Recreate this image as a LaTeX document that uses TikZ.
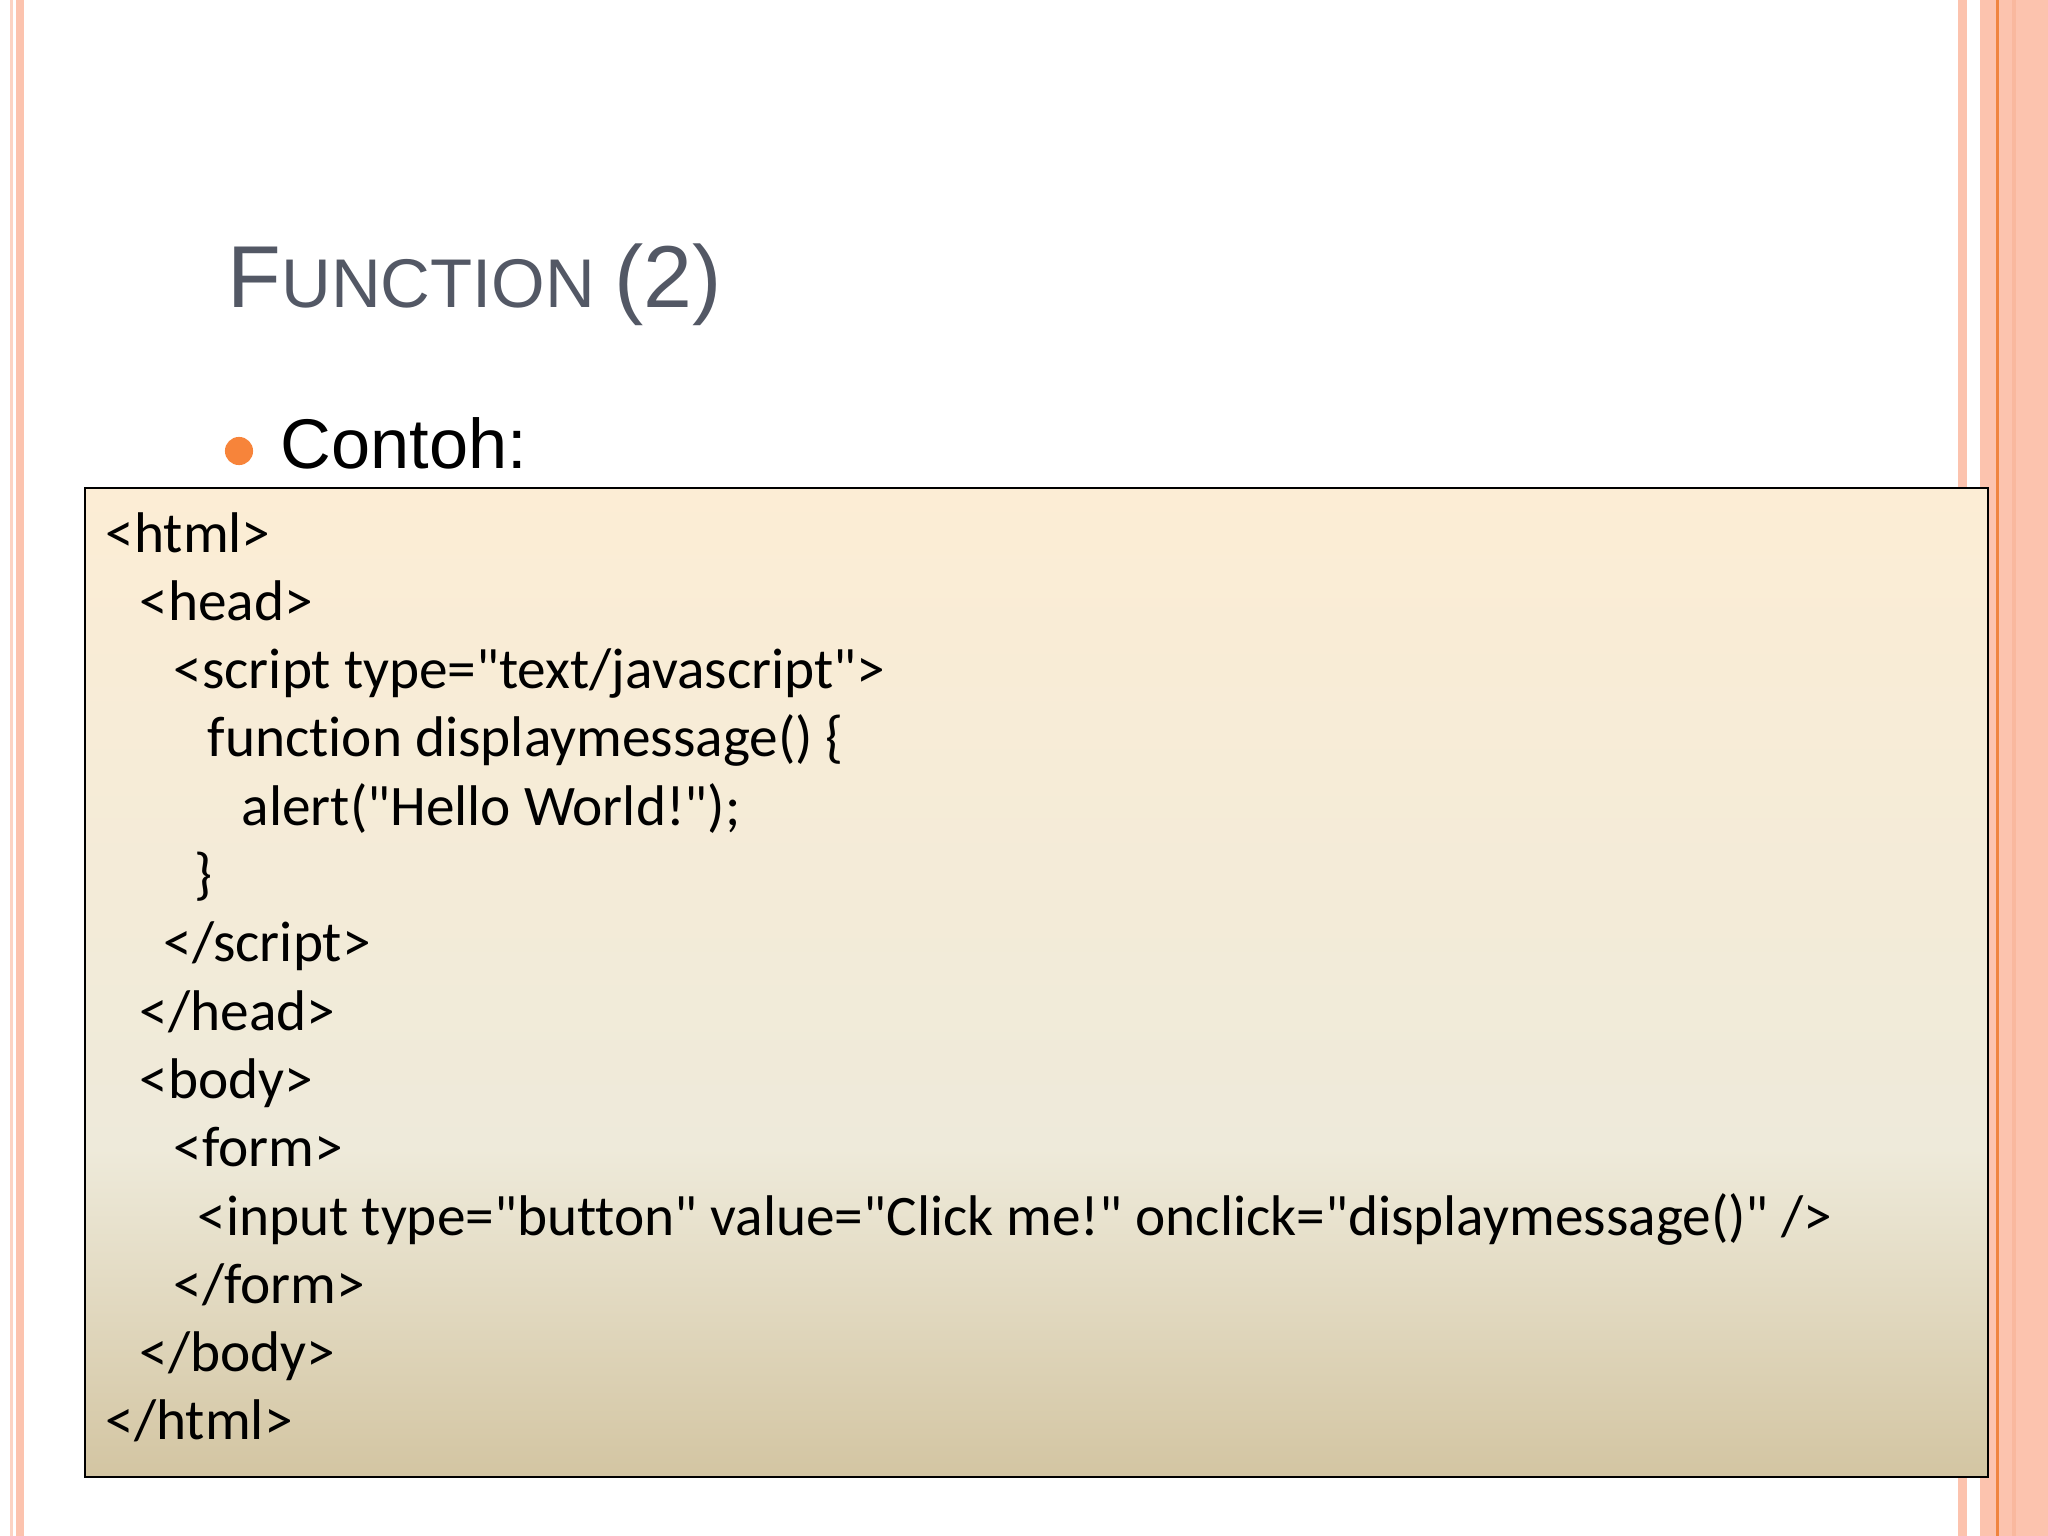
\documentclass[tikz,border=0pt]{standalone}
\usepackage{fontspec}
\setmainfont{Liberation Sans}
\newfontfamily\codefont{Carlito}[Ligatures={TeXOff,CommonOff}]
\definecolor{titlegray}{HTML}{535865}
\definecolor{barpink}{HTML}{FCC3AE}
\definecolor{barpale}{HTML}{FCD3C3}
\definecolor{bardark}{HTML}{F9B89E}
\definecolor{barorange}{HTML}{F0843F}
\definecolor{dotorange}{HTML}{F7843A}
\definecolor{boxtop}{HTML}{FCEDD5}
\definecolor{boxmid}{HTML}{EEEADA}
\definecolor{boxbot}{HTML}{D3C5A2}
\tikzset{
  codeline/.style={anchor=base west,inner sep=0pt,font=\codefont\fontsize{16.3}{19}\selectfont},
  slidetext/.style={anchor=base west,inner sep=0pt}
}
\begin{document}
\begin{tikzpicture}[x=0.01cm,y=-0.01cm]
  \useasboundingbox (0,0) rectangle (2048,1536);
  \fill[white] (0,0) rectangle (2048,1536);
  % side bars
  \fill[barpale] (10,0) rectangle (12.5,1536);
  \fill[barpink] (16,0) rectangle (24,1536);
  \fill[barpink] (1958,0) rectangle (1967,1536);
  \fill[barpink] (1980,0) rectangle (2048,1536);
  \fill[bardark] (2012,0) rectangle (2016,1536);
  \fill[barorange] (1995.5,0) rectangle (1998.5,1536);
  % title and bullet
  \node[slidetext,text=titlegray] (title) at (227,307)
    {\fontsize{25}{30}\selectfont F\fontsize{19.6}{25}\selectfont UNCTION \fontsize{25}{30}\selectfont(2)};
  \node[circle,fill=dotorange,inner sep=0pt,minimum size=8pt] (dot) at (239,451) {};
  \node[slidetext] (contoh) at (280,468) {\fontsize{20}{24}\selectfont Contoh:};
  % code box
  \shade[top color=boxtop,bottom color=boxmid] (85,488) rectangle (1988,1150);
  \shade[top color=boxmid,bottom color=boxbot] (85,1149) rectangle (1988,1477);
  \draw[line width=0.8pt] (85,488) rectangle (1988,1477);
  \node[codeline] (l1) at (105,552) {<html>};
  \node[codeline] (l2) at (139,620.3) {<head>};
  \node[codeline] (l3) at (173,688.6) {<script type="text/javascript">};
  \node[codeline] (l4) at (207,756.9) {function displaymessage() \{};
  \node[codeline] (l5) at (241,825.2) {alert("Hello World!");};
  \node[codeline] (l6) at (194,893.5) {\}};
  \node[codeline] (l7) at (163,961.8) {</script>};
  \node[codeline] (l8) at (139,1030.1) {</head>};
  \node[codeline] (l9) at (139,1098.4) {<body>};
  \node[codeline] (l10) at (173,1166.7) {<form>};
  \node[codeline] (l11) at (197,1235) {<input type="button" value="Click me!" onclick="displaymessage()" />};
  \node[codeline] (l12) at (173,1303.3) {</form>};
  \node[codeline] (l13) at (139,1371.6) {</body>};
  \node[codeline] (l14) at (105,1439.9) {</html>};
\end{tikzpicture}
\end{document}
